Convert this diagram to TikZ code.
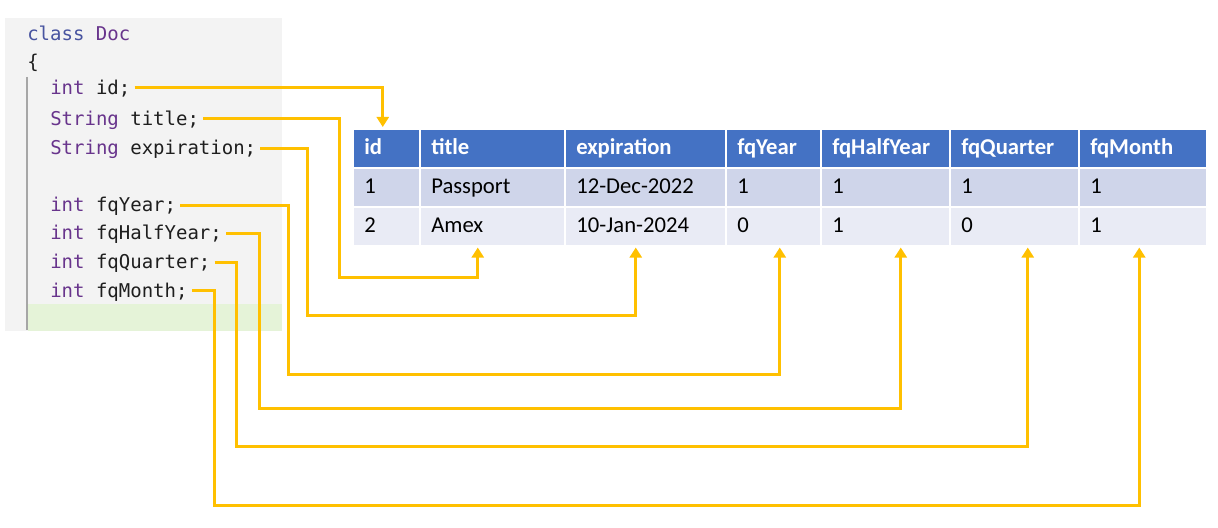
\documentclass[tikz,border=0pt]{standalone}
\usepackage{fontspec}
\setmainfont{Carlito}
\newfontfamily\codefont{DejaVu Sans Mono}
\usepackage{xcolor}
\usetikzlibrary{arrows.meta,calc,positioning}
\definecolor{hdblue}{RGB}{68,114,196}
\definecolor{rowa}{RGB}{207,213,234}
\definecolor{rowb}{RGB}{233,235,245}
\definecolor{linkorange}{RGB}{255,192,0}
\definecolor{codebg}{RGB}{243,243,243}
\definecolor{codegreen}{RGB}{229,243,216}
\definecolor{kwblue}{RGB}{72,84,160}
\definecolor{kwpurple}{RGB}{104,52,140}
\definecolor{codetxt}{RGB}{30,30,30}
\newcommand{\kw}[1]{\textcolor{kwpurple}{#1}}
\tikzstyle{codeline} = [anchor=west, inner xsep=3pt, inner ysep=0pt, text height=1em, text depth=0em, font=\codefont\fontsize{14.25}{17}\selectfont, text=codetxt]
\tikzstyle{cell} = [anchor=north west, minimum height=27.75pt, inner xsep=7.5pt, inner ysep=0pt, text height=0.9em, text depth=0.04em, align=left, font=\fontsize{17}{20}\selectfont]
\tikzstyle{hcell} = [cell, fill=hdblue, text=white, font=\bfseries\fontsize{17}{20}\selectfont]
\tikzstyle{link} = [line width=2.25pt, color=linkorange, -{Triangle[width=9pt,length=7.5pt]}]

\begin{document}
\begin{tikzpicture}[x=0.75pt, y=-0.75pt]
\useasboundingbox (0,0) rectangle (1218,528);

% code panel
\fill[codebg] (5,18) rectangle (282,331);
\fill[codegreen] (28,304) rectangle (282,331);
\draw[black!35, line width=1.2pt] (27,77) -- (27,330);

\node[codeline] (cclass) at (23,34) {\textcolor{kwblue}{class} \kw{Doc}};
\node[codeline] (cbrace) at (23,62) {\{};
\node[codeline] (cid) at (46,88) {\kw{int} id;};
\node[codeline] (ctitle) at (46,119) {\kw{String} title;};
\node[codeline] (cexp) at (46,148) {\kw{String} expiration;};
\node[codeline] (cyear) at (46,205) {\kw{int} fqYear;};
\node[codeline] (chalf) at (46,233) {\kw{int} fqHalfYear;};
\node[codeline] (cquarter) at (46,262) {\kw{int} fqQuarter;};
\node[codeline] (cmonth) at (46,290.5) {\kw{int} fqMonth;};

% table
\foreach \n/\x/\w/\hd/\va/\vb [evaluate=\w as \tw using (\w-20)*0.75] in
  {id/354/65/id/1/2, title/421/143/title/Passport/Amex,
   expiration/566/159/expiration/12-Dec-2022/10-Jan-2024,
   fqYear/727/93/fqYear/1/0, fqHalfYear/822/127/fqHalfYear/1/1,
   fqQuarter/951/127/fqQuarter/1/0, fqMonth/1080/126/fqMonth/1/1}
{
  \node[hcell, text width=\tw pt] (h-\n) at (\x,130) {\hd};
  \node[cell, fill=rowa, text width=\tw pt] (r1-\n) at (\x,169) {\va};
  \node[cell, fill=rowb, text width=\tw pt] (r2-\n) at (\x,208) {\vb};
}

% links
\draw[link] (cid.east) -| ($(h-id.north)+(-4,-3)$);
\draw[link] (ctitle.east) -| (339,277) -| ($(r2-title.south)+(-15,2)$);
\draw[link] (cexp.east) -| (307,315) -| ($(r2-expiration.south)+(-10,2)$);
\draw[link] (cyear.east) -| (288,374) -| ($(r2-fqYear.south)+(6,2)$);
\draw[link] (chalf.east) -| (259,408) -| ($(r2-fqHalfYear.south)+(15,2)$);
\draw[link] (cquarter.east) -| (236,446) -| ($(r2-fqQuarter.south)+(13,2)$);
\draw[link] (cmonth.east) -| (214,505) -| ($(r2-fqMonth.south)+(-4,2)$);
\end{tikzpicture}
\end{document}
